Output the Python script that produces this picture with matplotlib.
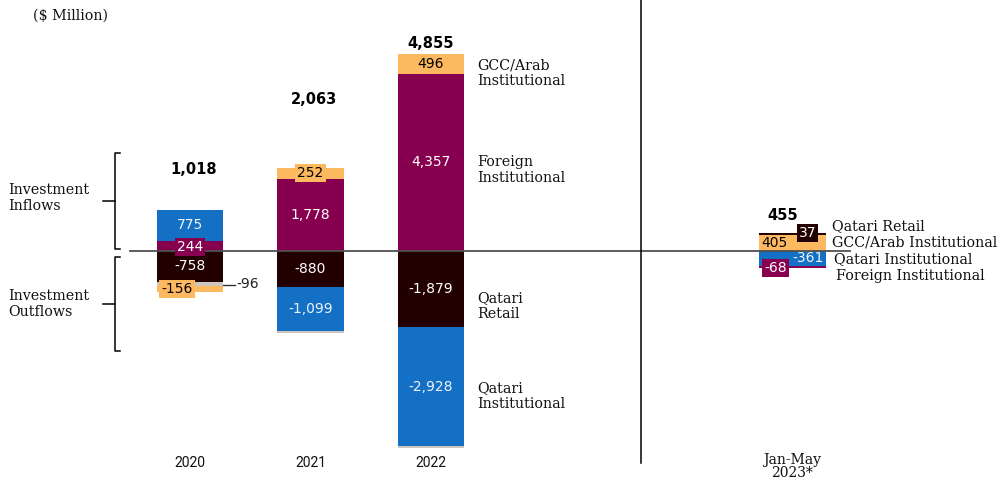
import matplotlib
matplotlib.use("Agg")
import matplotlib.pyplot as plt
from matplotlib.lines import Line2D

#periods and series values ($ Million)
periods = ['2020', '2021', '2022', 'Jan-May\n2023*']
qatari_retail = [-758, -880, -1879, 37]
qatari_inst = [775, -1099, -2928, -361]
gcc_inst = [-156, 252, 496, 405]
foreign_inst = [244, 1778, 4357, -68]
others = [-96, -45, -45, 0]
totals = ['1,018', '2,063', '4,855', '455']

#stacking order: first one sits next to zero
pos_order = ['foreign', 'gcc', 'qinst', 'retail', 'other']
neg_order = ['retail', 'qinst', 'other', 'gcc', 'foreign']
values = {'retail': qatari_retail, 'qinst': qatari_inst, 'gcc': gcc_inst,
          'foreign': foreign_inst, 'other': others}
colors = {'retail': '#220000', 'qinst': '#1470c4', 'gcc': '#fdb95f',
          'foreign': '#870050', 'other': '#cdc6bf'}
text_colors = {'retail': 'white', 'qinst': '#eef3fa', 'gcc': 'black',
               'foreign': 'white', 'other': 'black'}

#bar positions (gap before last period)
xpos = [0, 1, 2, 5]
width = 0.55

#layout helpers (pixel -> data)
Y0_PX = 251
UNIT = 24.6
X0_PX = 190
XUNIT = 120.5

def ypx(p):
    return (Y0_PX - p) * UNIT

def xpx(p):
    return (p - X0_PX) / XUNIT

fig = plt.figure(figsize=(10, 4.8), dpi=100)
ax = fig.add_axes([0, 0, 1, 1])
ax.set_xlim(xpx(0), xpx(1000))
ax.set_ylim(ypx(480), ypx(0))
ax.axis('off')

#special label placements: (dx, y px, box)
special = {
    (0, 'foreign'): (0, 247, True),
    (0, 'gcc'): (-0.11, 289, True),
    (0, 'other'): None,
    (1, 'gcc'): (0, 173, True),
    (1, 'other'): None,
    (2, 'other'): None,
    (3, 'gcc'): (-0.15, 243, False),
    (3, 'retail'): (0.125, 233, True),
    (3, 'qinst'): (0.13, 258, False),
    (3, 'foreign'): (-0.14, 268, True),
}

num_font = dict(family='DejaVu Sans', fontsize=10)

for i, x in enumerate(xpos):
    pos_base = 0
    neg_base = 0
    segs = []
    for s in pos_order:
        v = values[s][i]
        if v > 0:
            ax.bar(x, v, width, bottom=pos_base, color=colors[s], linewidth=0, zorder=2)
            segs.append((s, v, pos_base + v / 2))
            pos_base += v
    for s in neg_order:
        v = values[s][i]
        if v < 0:
            ax.bar(x, v, width, bottom=neg_base, color=colors[s], linewidth=0, zorder=2)
            segs.append((s, v, neg_base + v / 2))
            neg_base += v
    for s, v, yc in segs:
        key = (i, s)
        lab = format(v, ',')
        if key in special:
            sp = special[key]
            if sp is None:
                continue
            dx, yp, box = sp
            bb = dict(boxstyle='square,pad=0.15', fc=colors[s], ec='none') if box else None
            ax.text(x + dx, ypx(yp), lab, ha='center', va='center',
                    color=text_colors[s], bbox=bb, zorder=4, **num_font)
        else:
            ax.text(x, yc, lab, ha='center', va='center',
                    color=text_colors[s], zorder=4, **num_font)

#small "others" label for 2020 with leader line
ax.plot([xpos[0] + width / 2, xpx(235)], [ypx(284.5), ypx(284.5)], color='#333333', lw=1, zorder=3)
ax.text(xpx(236), ypx(284.5), format(others[0], ','), ha='left', va='center',
        color='#222222', **num_font)

#totals
total_y = [170, 100, 43, 215]
total_dx = [0.03, 0.03, 0, -0.08]
for i, x in enumerate(xpos):
    ax.text(x + total_dx[i], ypx(total_y[i]), totals[i], ha='center', va='center',
            fontsize=10.5, fontweight='bold', family='DejaVu Sans', color='black')

#zero line and separator
ax.plot([xpx(130), xpx(850)], [0, 0], color='#505050', lw=1.3, zorder=3)
ax.plot([xpx(641), xpx(641)], [ypx(463), ypx(0)], color='black', lw=1.1, zorder=3)

#period labels
for i, x in enumerate(xpos[:3]):
    ax.text(x, ypx(463), periods[i], ha='center', va='center', fontsize=10,
            family='Roboto', color='#111111')
ax.text(xpos[3], ypx(453), periods[3], ha='center', va='top', fontsize=10,
        family='DejaVu Serif', color='#111111', linespacing=0.95)

serif = dict(family='DejaVu Serif', fontsize=10.3, color='#111111')

#2022 series labels
for txt, yp in [('GCC/Arab\nInstitutional', 73), ('Foreign\nInstitutional', 170),
                ('Qatari\nRetail', 306), ('Qatari\nInstitutional', 396)]:
    ax.text(xpx(477), ypx(yp), txt, ha='left', va='center', linespacing=1.15, **serif)

#2023 series labels
for txt, xp, yp in [('Qatari Retail', 832, 226), ('GCC/Arab Institutional', 832, 243),
                    ('Qatari Institutional', 834, 259), ('Foreign Institutional', 836, 276)]:
    ax.text(xpx(xp), ypx(yp), txt, ha='left', va='center', **serif)

#unit and side labels
fig.text(33 / 1000, 1 - 16 / 480, '($ Million)', ha='left', va='center', **serif)
fig.text(8 / 1000, 1 - 198 / 480, 'Investment\nInflows', ha='left', va='center',
         linespacing=1.15, **serif)
fig.text(8 / 1000, 1 - 304 / 480, 'Investment\nOutflows', ha='left', va='center',
         linespacing=1.15, **serif)

#braces
def brace(top, bottom, mid):
    pts_x = [120, 115, 115, 120]
    pts_y = [top, top, bottom, bottom]
    fig.add_artist(Line2D([p / 1000 for p in pts_x], [1 - p / 480 for p in pts_y],
                          color='black', lw=1.1))
    fig.add_artist(Line2D([103 / 1000, 115 / 1000], [1 - mid / 480, 1 - mid / 480],
                          color='black', lw=1.1))

brace(153, 249, 201)
brace(257, 351, 304)

fig.savefig('out.png', dpi=100)
